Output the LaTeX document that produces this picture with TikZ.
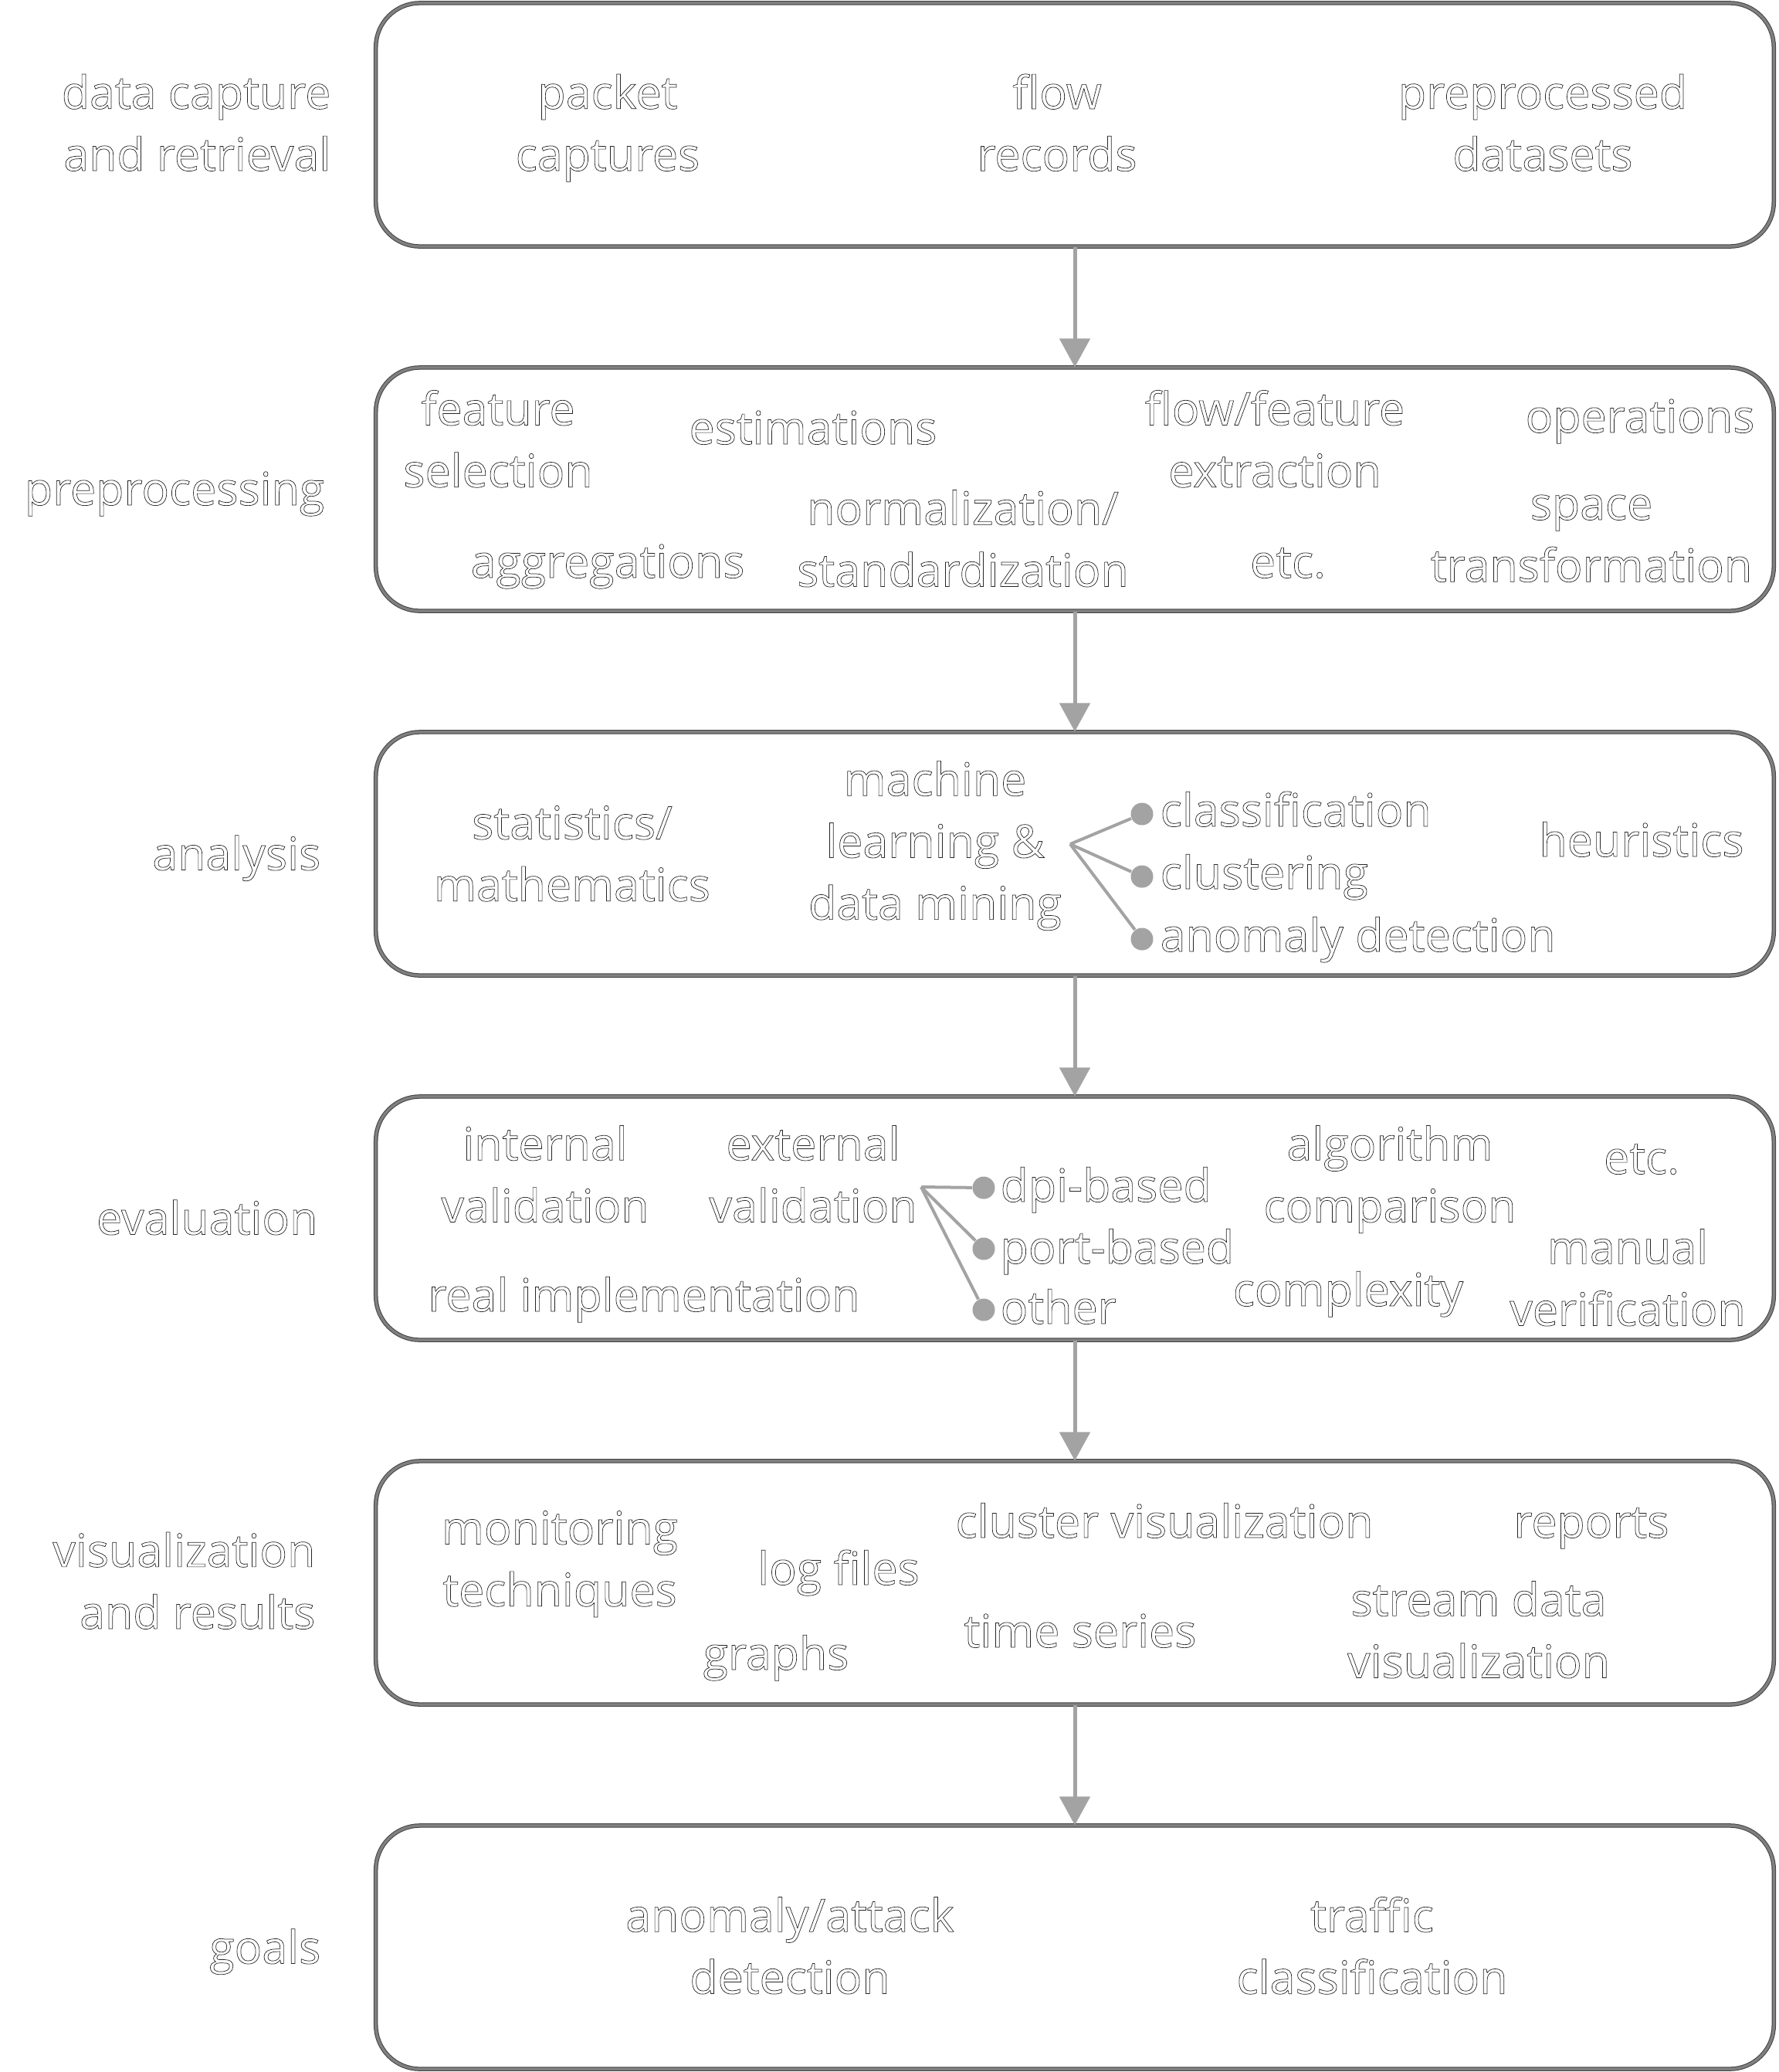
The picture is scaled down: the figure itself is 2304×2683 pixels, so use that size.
\documentclass[tikz,border=0pt]{standalone}
\usepackage{fontspec}
\setmainfont{Open Sans}
\usetikzlibrary{arrows.meta}

\newcommand{\hollowtext}{\special{pdf:literal direct 1 Tr 0.2 w}}

\begin{document}
\begin{tikzpicture}[x=0.01cm, y=-0.01cm,
    every node/.style={font=\fontsize{16.8}{22.8}\selectfont\hollowtext, text=black!85, inner sep=0pt},
    words/.style={execute at begin node=\strut, execute at end node=\strut},
    stage/.style={draw=black!75, double=black!50, double distance=0.035cm, line width=0.01cm,
        rounded corners=0.57cm, minimum width=18.095cm, minimum height=3.15cm},
    stagelabel/.style={words, anchor=east, align=right},
    item/.style={words, align=center},
    leaf/.style={circle, fill=black!36, minimum size=0.29cm},
    leaflabel/.style={words, anchor=west},
    flow/.style={-{Triangle[length=0.37cm, width=0.39cm]}, draw=black!36, line width=0.05cm},
    branch/.style={draw=black!36, line width=0.04cm}]
    \useasboundingbox (0,0) rectangle (2304,2683);

    % Stages
    \node[stage] (capture) at (1392,161.5) {};
    \node[stage] (prep) at (1392,633.5) {};
    \node[stage] (analysis) at (1392,1105.5) {};
    \node[stage] (eval) at (1392,1577.5) {};
    \node[stage] (vis) at (1392,2049.5) {};
    \node[stage] (goals) at (1392,2521.5) {};

    \draw[flow] (capture) -- (prep);
    \draw[flow] (prep) -- (analysis);
    \draw[flow] (analysis) -- (eval);
    \draw[flow] (eval) -- (vis);
    \draw[flow] (vis) -- (goals);

    % Stage names
    \node[stagelabel] (capturelbl) at (429,170.5) {data capture\\and retrieval};
    \node[stagelabel] (preplbl) at (421,638) {preprocessing};
    \node[stagelabel] (analysislbl) at (416,1110.5) {analysis};
    \node[stagelabel] (evallbl) at (412,1582.5) {evaluation};
    \node[stagelabel] (vislbl) at (409,2058.5) {visualization\\and results};
    \node[stagelabel] (goalslbl) at (416,2526.5) {goals};

    % Data capture and retrieval
    \node[item] (packet) at (787,170.5) {packet\\captures};
    \node[item] (records) at (1369,170.5) {flow\\records};
    \node[item] (datasets) at (1998,170.5) {preprocessed\\datasets};

    % Preprocessing
    \node[item] (selection) at (645,580) {feature\\selection};
    \node[item] (estim) at (1053,559) {estimations};
    \node[item] (extraction) at (1651,580) {flow/feature\\extraction};
    \node[item] (operations) at (2124,544) {operations};
    \node[item] (aggreg) at (787,732) {aggregations};
    \node[item] (normal) at (1247,709) {normalization/\\standardization};
    \node[item] (prepetc) at (1668,732) {etc.};
    \node[item] (space) at (2061,709) {space\\transformation};

    % Analysis
    \node[item] (stats) at (741,1117) {statistics/\\mathematics};
    \node[item] (ml) at (1211,1100) {machine\\learning \&\\data mining};
    \node[item] (heur) at (2126,1093) {heuristics};
    \coordinate (mlroot) at (1386,1093);
    \node[leaf] (clsdot) at (1479,1054) {};
    \node[leaf] (cludot) at (1479,1135) {};
    \node[leaf] (anodot) at (1479,1216) {};
    \draw[branch] (mlroot) -- (clsdot);
    \draw[branch] (mlroot) -- (cludot);
    \draw[branch] (mlroot) -- (anodot);
    \node[leaflabel] (cls) at (1502,1054) {classification};
    \node[leaflabel] (clu) at (1502,1135) {clustering};
    \node[leaflabel] (ano) at (1502,1216) {anomaly detection};

    % Evaluation
    \node[item] (internal) at (706,1532) {internal\\validation};
    \node[item] (external) at (1053,1532) {external\\validation};
    \node[item] (realimpl) at (834,1682) {real implementation};
    \node[item] (algcomp) at (1800,1532) {algorithm\\comparison};
    \node[item] (evaletc) at (2126,1504) {etc.};
    \node[item] (manual) at (2108,1666) {manual\\verification};
    \node[item] (complex) at (1746,1675) {complexity};
    \coordinate (extroot) at (1193,1537);
    \node[leaf] (dpidot) at (1274,1538) {};
    \node[leaf] (portdot) at (1274,1617) {};
    \node[leaf] (otherdot) at (1274,1696) {};
    \draw[branch] (extroot) -- (dpidot);
    \draw[branch] (extroot) -- (portdot);
    \draw[branch] (extroot) -- (otherdot);
    \node[leaflabel] (dpi) at (1295,1540) {dpi-based};
    \node[leaflabel] (port) at (1295,1620) {port-based};
    \node[leaflabel] (other) at (1295,1698) {other};

    % Visualization and results
    \node[item] (monitor) at (725,2030) {monitoring\\techniques};
    \node[item] (logs) at (1086,2036) {log files};
    \node[item] (clustervis) at (1508,1975) {cluster visualization};
    \node[item] (reports) at (2061,1975) {reports};
    \node[item] (graphs) at (1005,2146) {graphs};
    \node[item] (series) at (1399,2117) {time series};
    \node[item] (stream) at (1915,2122) {stream data\\visualization};

    % Goals
    \node[item] (attack) at (1023,2531) {anomaly/attack\\detection};
    \node[item] (traffic) at (1777,2531) {traffic\\classification};
\end{tikzpicture}
\end{document}
